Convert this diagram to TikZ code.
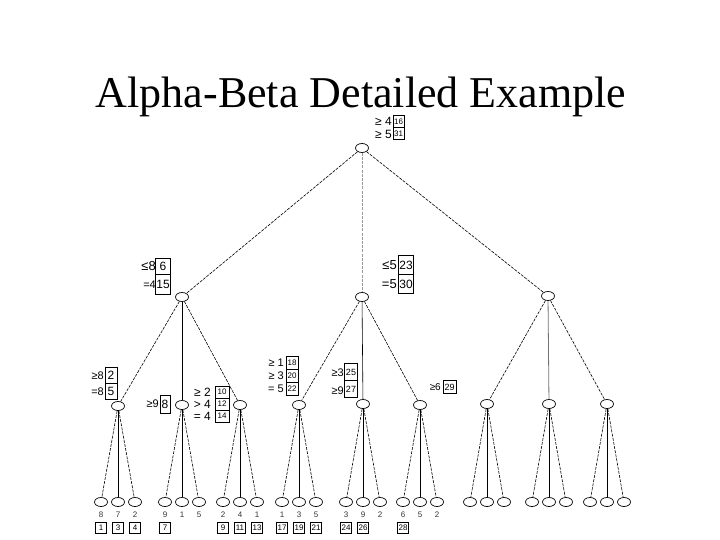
\documentclass[tikz,border=0pt]{standalone}
\usepackage{fontspec}
\setmainfont{Liberation Serif}
\newfontfamily\labfont{Liberation Sans}
\usetikzlibrary{shapes.geometric}
\begin{document}
\begin{tikzpicture}[x=1pt,y=-1pt,
  tn/.style={ellipse,draw,line width=0.7pt,minimum width=13pt,minimum height=9pt,inner sep=0pt,fill=white},
  dsh/.style={line width=0.6pt,dash pattern=on 3pt off 1.2pt},
  sol/.style={line width=0.6pt},
  gsol/.style={line width=0.8pt,draw=black!55},
  lab/.style={font=\labfont\fontsize{10}{10}\selectfont,inner sep=0pt,anchor=east},
  biglab/.style={font=\labfont\fontsize{13}{13}\selectfont,inner sep=0pt,anchor=east},
  bx/.style={draw,line width=0.6pt,font=\labfont\fontsize{8}{8}\selectfont,inner sep=0pt,minimum width=12pt,minimum height=12pt},
  vbox/.style={draw,line width=0.6pt,font=\labfont\fontsize{12}{12}\selectfont,inner sep=0pt,minimum width=15pt},
  val/.style={font=\labfont\fontsize{8}{8}\selectfont,inner sep=0pt,text=black!80},
  lbx/.style={draw,line width=0.6pt,font=\labfont\fontsize{8}{8}\selectfont,inner sep=0pt,minimum width=11pt,minimum height=11pt}
]
\useasboundingbox (0,0) rectangle (720,540);
\node[font=\fontsize{44}{44}\selectfont,inner sep=0pt] (title) at (361,97) {Alpha-Beta Detailed Example};

% tree nodes
\node[tn] (r) at (362,148) {};
\node[tn] (a) at (182,297) {};
\node[tn] (b) at (362,297) {};
\node[tn] (c) at (548,296) {};
\node[tn] (a1) at (118,406) {};
\node[tn] (a2) at (182,405) {};
\node[tn] (a3) at (240,405) {};
\node[tn] (b1) at (299,405) {};
\node[tn] (b2) at (363,404) {};
\node[tn] (b3) at (420,405) {};
\node[tn] (c1) at (487,404) {};
\node[tn] (c2) at (549,404) {};
\node[tn] (c3) at (607,404) {};
\foreach \p/\x in {a1/118,a2/182,a3/240,b1/299,b2/363,b3/420,c1/487,c2/549,c3/607}{
  \node[tn] (\p l) at (\x-17,502) {};
  \node[tn] (\p m) at (\x,502) {};
  \node[tn] (\p r) at (\x+17,502) {};
}

% edges
\draw[dsh] (r) -- (a);
\draw[dsh,draw=black!40] (r) -- (b);
\draw[dsh] (r) -- (c);
\draw[dsh] (a) -- (a1);
\draw[sol] (a) -- (a2);
\draw[dsh] (a) -- (a3);
\draw[dsh] (b) -- (b1);
\draw[sol] (b) -- (b2);
\draw[dsh] (b) -- (b3);
\draw[dsh] (c) -- (c1);
\draw[gsol] (c) -- (c2);
\draw[dsh] (c) -- (c3);
\foreach \p in {a1,a2,a3,b1,b2,b3,c1,c2,c3}{
  \draw[dsh] (\p) -- (\p l);
  \draw[sol] (\p) -- (\p m);
  \draw[dsh] (\p) -- (\p r);
}

% root label
\node[biglab,font=\labfont\fontsize{12}{12}\selectfont] (rt1) at (392,121) {≥ 4};
\node[bx,minimum width=11pt] (rb1) at (398.5,121.5) {16};
\node[biglab,font=\labfont\fontsize{12}{12}\selectfont] (rt2) at (392,134) {≥ 5};
\node[bx,minimum width=11pt] (rb2) at (398.5,133.5) {31};

% left level-1 label
\node[biglab] (at1) at (156,266) {≤8};
\node[vbox,minimum height=16pt] (ab1) at (163,266) {6};
\node[lab,font=\labfont\fontsize{11}{11}\selectfont] (at2) at (156,285) {=4};
\node[vbox,minimum height=20pt] (ab2) at (163,284) {15};

% middle level-1 label
\node[biglab] (bt1) at (397,265) {≤5};
\node[vbox,minimum height=19pt] (bb1) at (406,265) {23};
\node[biglab] (bt2) at (397,284) {=5};
\node[vbox,minimum height=19pt] (bb2) at (406,284) {30};

% level-2 labels
\node[lab,font=\labfont\fontsize{11}{11}\selectfont] (a1t1) at (104,376) {≥8};
\node[vbox,minimum width=12pt,minimum height=16pt] (a1b1) at (111,375) {2};
\node[lab,font=\labfont\fontsize{11}{11}\selectfont] (a1t2) at (104,392) {=8};
\node[vbox,minimum width=12pt,minimum height=16pt] (a1b2) at (111,391) {5};

\node[lab,font=\labfont\fontsize{11}{11}\selectfont] (a2t) at (159,404) {≥9};
\node[vbox,minimum width=10pt,minimum height=18pt] (a2b) at (165,404) {8};

\node[lab,font=\labfont\fontsize{12}{12}\selectfont] (a3t1) at (211,392) {≥ 2};
\node[bx,minimum width=14pt] (a3b1) at (222,392) {10};
\node[lab,font=\labfont\fontsize{12}{12}\selectfont] (a3t2) at (211,404) {> 4};
\node[bx,minimum width=14pt] (a3b2) at (222,404) {12};
\node[lab,font=\labfont\fontsize{12}{12}\selectfont] (a3t3) at (211,416) {= 4};
\node[bx,minimum width=14pt] (a3b3) at (222,416) {14};

\node[lab,font=\labfont\fontsize{11}{11}\selectfont] (b1t1) at (284,363) {≥ 1};
\node[bx,minimum width=12pt,minimum height=13pt] (b1b1) at (292,363) {18};
\node[lab,font=\labfont\fontsize{11}{11}\selectfont] (b1t2) at (284,376) {≥ 3};
\node[bx,minimum width=12pt,minimum height=13pt] (b1b2) at (292,376) {20};
\node[lab,font=\labfont\fontsize{11}{11}\selectfont] (b1t3) at (284,389) {= 5};
\node[bx,minimum width=12pt,minimum height=13pt] (b1b3) at (292,389) {22};

\node[lab,font=\labfont\fontsize{11}{11}\selectfont] (b2t1) at (344,373) {≥3};
\node[vbox,font=\labfont\fontsize{9}{9}\selectfont,minimum width=13pt,minimum height=17pt] (b2b1) at (351,372) {25};
\node[lab,font=\labfont\fontsize{11}{11}\selectfont] (b2t2) at (344,391) {≥9};
\node[vbox,font=\labfont\fontsize{9}{9}\selectfont,minimum width=13pt,minimum height=17pt] (b2b2) at (351,389) {27};

\node[lab,font=\labfont\fontsize{10}{10}\selectfont] (b3t) at (441,387) {≥6};
\node[bx,minimum width=13pt,minimum height=13pt,font=\labfont\fontsize{9}{9}\selectfont] (b3b) at (449.5,387) {29};

% leaf values
\foreach \p/\u/\v/\w in {a1/8/7/2,a2/9/1/5,a3/2/4/1,b1/1/3/5,b2/3/9/2,b3/6/5/2}{
  \node[val] (\p lv) at ([yshift=-13pt]\p l) {\u};
  \node[val] (\p mv) at ([yshift=-13pt]\p m) {\v};
  \node[val] (\p rv) at ([yshift=-13pt]\p r) {\w};
}
% leaf order boxes
\foreach \p/\n in {a1l/1,a1m/3,a1r/4,a2l/7,a3l/9,a3m/11,a3r/13,b1l/17,b1m/19,b1r/21,b2l/24,b2m/26,b3l/28}{
  \node[lbx] (\p o) at ([yshift=-26pt]\p) {\n};
}
\end{tikzpicture}
\end{document}
